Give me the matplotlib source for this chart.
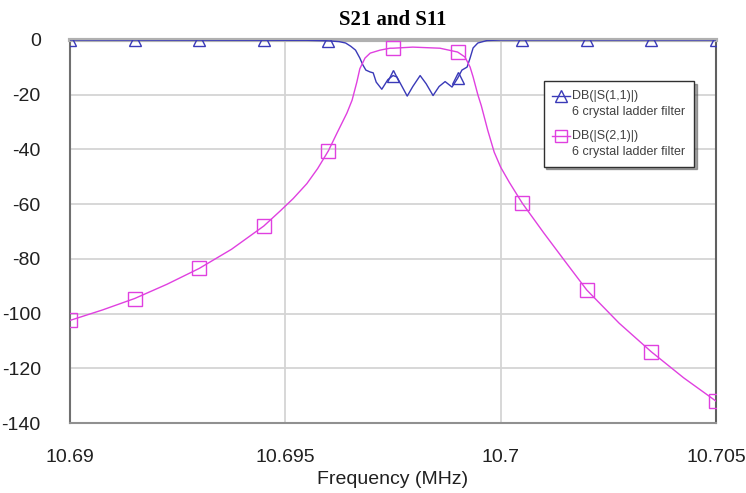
import matplotlib
matplotlib.use("Agg")
import matplotlib.pyplot as plt
import numpy as np
from matplotlib.legend_handler import HandlerLine2D

# ---- data ----
s21_freq = [10.6900, 10.69075, 10.6915, 10.69225, 10.6930, 10.69375, 10.6945, 10.69488,
            10.69518, 10.69550, 10.69575, 10.6960, 10.69620, 10.69643, 10.69655, 10.69666,
            10.69673, 10.69685, 10.69697, 10.69720, 10.69743, 10.6975, 10.69796, 10.69843,
            10.69859, 10.6990, 10.69917, 10.69929, 10.69936, 10.69947, 10.69955, 10.69970,
            10.69985, 10.7000, 10.7002, 10.7005, 10.7010, 10.7015, 10.7020, 10.70275,
            10.7035, 10.70425, 10.7050]
s21_db = [-102.5, -98.7, -94.5, -89.3, -83.5, -76.5, -68.0, -62.5,
          -58.0, -52.5, -47.0, -40.5, -34.0, -26.7, -22.0, -15.4,
          -10.5, -6.6, -4.8, -3.7, -3.0, -3.0, -2.6, -2.9,
          -3.0, -4.4, -6.2, -9.9, -13.5, -20.0, -24.0, -33.0,
          -41.0, -46.5, -52.0, -59.6, -70.5, -81.0, -91.4, -103.5,
          -114.0, -123.5, -132.0]

s11_freq = [10.6900, 10.6955, 10.6960, 10.69625, 10.6964, 10.69652, 10.69663, 10.69673,
            10.69680, 10.69687, 10.69697, 10.69704, 10.69711, 10.69724, 10.69738, 10.6975,
            10.69759, 10.69771, 10.69783, 10.69796, 10.69813, 10.69827, 10.69843, 10.69857,
            10.69871, 10.69887, 10.6990, 10.69910, 10.69922, 10.69929, 10.69936, 10.69947,
            10.69968, 10.7000, 10.7050]
s11_db = [0.0, -0.1, -0.3, -0.6, -1.1, -2.3, -3.7, -6.6,
          -9.1, -11.0, -11.7, -12.0, -15.4, -18.0, -14.5, -13.0,
          -13.5, -17.0, -20.5, -17.0, -13.0, -16.0, -20.3, -17.0,
          -15.2, -17.2, -14.0, -11.0, -9.9, -6.6, -2.9, -1.1,
          -0.2, 0.0, 0.0]

marker_freq = [10.6900, 10.6915, 10.6930, 10.6945, 10.6960, 10.6975, 10.6990,
               10.7005, 10.7020, 10.7035, 10.7050]
s11_marker_db = [0.0, 0.0, 0.0, 0.0, -0.3, -13.0, -14.0, 0.0, 0.0, 0.0, 0.0]
s21_marker_db = [-102.5, -94.5, -83.5, -68.0, -40.5, -3.0, -4.4, -59.6, -91.4, -114.0, -132.0]

xticks = [10.69, 10.695, 10.7, 10.705]
xtick_labels = ["10.69", "10.695", "10.7", "10.705"]
yticks = [0, -20, -40, -60, -80, -100, -120, -140]

title = "S21 and S11"
xlabel = "Frequency (MHz)"
s11_label = "DB(|S(1,1)|)\n6 crystal ladder filter"
s21_label = "DB(|S(2,1)|)\n6 crystal ladder filter"

# ---- styling ----
blue = "#3a3ab8"
magenta = "#e040e0"

plt.rcParams['font.family'] = ['Liberation Sans', 'DejaVu Sans']
plt.rcParams['axes.unicode_minus'] = False


class TopLineHandler(HandlerLine2D):
    """Place the legend handle next to the first line of a two-line label."""
    def create_artists(self, legend, orig_handle, xdescent, ydescent, width,
                       height, fontsize, trans):
        arts = super().create_artists(legend, orig_handle, xdescent, ydescent,
                                      width, height, fontsize, trans)
        for a in arts:
            a.set_ydata(np.asarray(a.get_ydata(), dtype=float) + fontsize * 0.62)
        return arts


fig = plt.figure(figsize=(7.46, 4.93), dpi=100)
ax = fig.add_axes([70 / 746, 1 - 423 / 493, 646 / 746, 383 / 493])

ax.plot(s11_freq, s11_db, color=blue, lw=1.0, zorder=3)
ax.plot(s21_freq, s21_db, color=magenta, lw=1.0, zorder=3)
ax.plot(marker_freq, s11_marker_db, ls='none', marker='^', ms=9, mfc='none',
        mec=blue, mew=1.0, zorder=4, clip_on=True)
ax.plot(marker_freq, s21_marker_db, ls='none', marker='s', ms=9.5, mfc='none',
        mec=magenta, mew=1.0, zorder=4, clip_on=True)

# legend handles
h11, = ax.plot([], [], color=blue, lw=1.0, marker='^', ms=8, mfc='none', mec=blue)
h21, = ax.plot([], [], color=magenta, lw=1.0, marker='s', ms=9, mfc='none', mec=magenta)

ax.set_xlim(10.69, 10.705)
ax.set_ylim(-140, 0)
ax.set_xticks(xticks)
ax.set_xticklabels(xtick_labels)
ax.set_yticks(yticks)
ax.tick_params(axis='both', length=0, labelsize=14, colors='#202020')
ax.tick_params(axis='y', pad=21)
ax.tick_params(axis='x', pad=19)
ax.grid(True, color='#d4d4d4', lw=1.3)
ax.set_axisbelow(True)

for side, col, lw in [('left', '#707070', 1.5), ('bottom', '#909090', 1.5),
                      ('right', '#606060', 1.5), ('top', '#b0b0b0', 3.0)]:
    ax.spines[side].set_color(col)
    ax.spines[side].set_linewidth(lw)

ax.set_title(title, fontsize=15, fontweight='bold',
             family=['Liberation Serif', 'DejaVu Serif'], pad=11)
ax.set_xlabel(xlabel, fontsize=14, labelpad=3, color='#202020')

leg = ax.legend([h11, h21], [s11_label, s21_label], loc='upper left',
                bbox_to_anchor=(0.733, 0.892), borderaxespad=0, fontsize=9.0,
                handlelength=1.4, handletextpad=0.2, labelspacing=1.0,
                frameon=True, fancybox=False, shadow=True, borderpad=0.7,
                handler_map={h11: TopLineHandler(), h21: TopLineHandler()})
leg.get_frame().set_edgecolor('#303030')
leg.get_frame().set_linewidth(1.0)
for t in leg.get_texts():
    t.set_color('#404040')
    t.set_linespacing(1.4)

fig.savefig("out.png", dpi=100)
